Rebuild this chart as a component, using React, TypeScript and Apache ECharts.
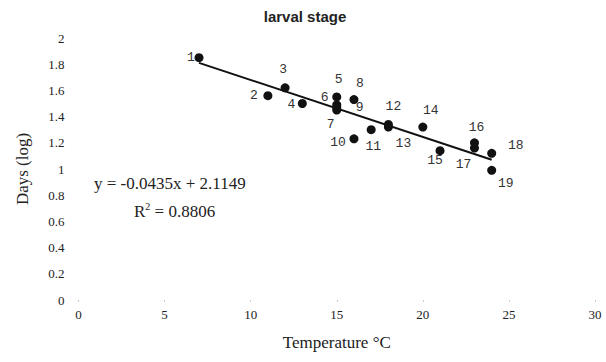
import React, { useEffect, useRef } from "react";
import * as echarts from "echarts";

const pointLabels = ["1","2","3","4","5","6","7","8","9","10","11","12","13","14","15","16","17","18","19"];
const temperatures = [7, 11, 12, 13, 15, 15, 15, 16, 15, 16, 17, 18, 18, 20, 21, 23, 23, 24, 24];
const daysLog = [1.85, 1.56, 1.62, 1.5, 1.55, 1.49, 1.45, 1.53, 1.47, 1.23, 1.3, 1.34, 1.32, 1.32, 1.14, 1.2, 1.16, 1.12, 0.99];
const labelOffsets = [
  [-8, 0], [-14, 0], [-2, -18], [-11, 1], [2, -17], [-12, -7], [-6, 14], [6, -16], [23, 0],
  [-16, 4], [2, 17], [5, -18], [15, 16], [8, -17], [-5, 10], [2, -15], [-11, 16], [24, -8], [14, 13],
];
const slope = -0.0435;
const intercept = 2.1149;
const trendRange = [7, 24];
const xTicks = [0, 5, 10, 15, 20, 25, 30];
const yTicks = [0, 0.2, 0.4, 0.6, 0.8, 1, 1.2, 1.4, 1.6, 1.8, 2];

export default function App() {
  const ref = useRef<HTMLDivElement>(null);
  useEffect(() => {
    if (!ref.current) return;
    document.body.style.margin = "0";
    const chart = echarts.init(ref.current, null, { renderer: "svg" });
    const serif = "Liberation Serif";
    const points = temperatures.map((t, i) => ({
      value: [t, daysLog[i]],
      label: {
        show: true,
        formatter: pointLabels[i],
        position: "inside",
        offset: labelOffsets[i],
      },
    }));
    chart.setOption({
      animation: false,
      title: {
        text: "larval stage",
        left: 300,
        textAlign: "center",
        top: 4,
        textStyle: { fontFamily: "Liberation Sans", fontWeight: "bold", fontSize: 15, color: "#222" },
      },
      grid: { left: 78.5, right: 11, top: 38, bottom: 62 },
      xAxis: {
        type: "value",
        min: xTicks[0],
        max: xTicks[xTicks.length - 1],
        interval: 5,
        name: "Temperature °C",
        nameLocation: "middle",
        nameGap: 34,
        nameTextStyle: { fontFamily: serif, fontSize: 17, color: "#222" },
        axisLine: { show: false },
        axisTick: { show: true, length: 2, lineStyle: { color: "#ccc" } },
        splitLine: { show: false },
        axisLabel: { fontFamily: serif, fontSize: 13, color: "#222", margin: 8 },
      },
      yAxis: {
        type: "value",
        min: yTicks[0],
        max: yTicks[yTicks.length - 1],
        interval: 0.2,
        name: "Days (log)",
        nameLocation: "middle",
        nameGap: 48,
        nameRotate: 90,
        nameTextStyle: { fontFamily: serif, fontSize: 17, color: "#222" },
        axisLine: { show: false },
        axisTick: { show: false },
        splitLine: { show: false },
        axisLabel: {
          fontFamily: serif,
          fontSize: 13,
          color: "#222",
          margin: 14,
          formatter: (v: number) => String(Math.round(v * 10) / 10),
        },
      },
      graphic: [
        {
          type: "text",
          left: 94,
          top: 175,
          style: {
            text: "y = -0.0435x + 2.1149",
            font: `17px ${serif}`,
            fill: "#222",
          },
        },
        {
          type: "text",
          left: 134,
          top: 201,
          style: {
            text: "R{s|2} = 0.8806",
            font: `17px ${serif}`,
            fill: "#222",
            rich: { s: { fontSize: 10, fontFamily: serif, verticalAlign: "top", padding: [0, 0, 10, 0] } },
          },
        },
      ],
      series: [
        {
          type: "line",
          data: trendRange.map((x) => [x, slope * x + intercept]),
          symbol: "none",
          lineStyle: { color: "#111", width: 2 },
          z: 1,
        },
        {
          type: "scatter",
          data: points,
          symbol: "circle",
          symbolSize: 9,
          itemStyle: { color: "#111", opacity: 1 },
          label: { fontFamily: "Liberation Mono", fontSize: 13, color: "#333" },
          z: 2,
        },
      ],
    });
    return () => chart.dispose();
  }, []);
  return <div ref={ref} style={{ width: 606, height: 362 }} />;
}
